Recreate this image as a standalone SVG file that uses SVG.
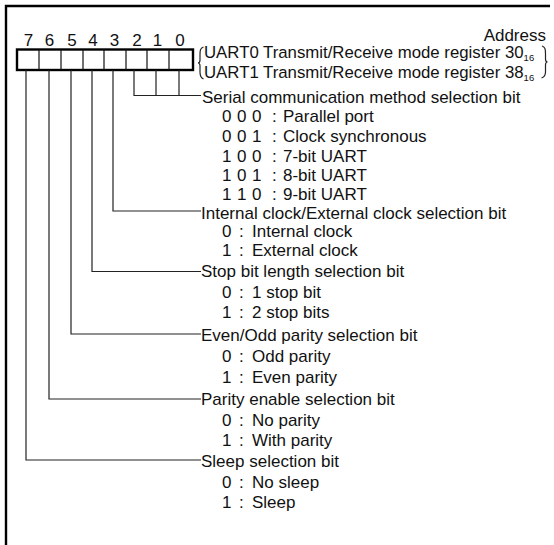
<svg xmlns="http://www.w3.org/2000/svg" width="554" height="545" viewBox="0 0 554 545">
<style>
text{font-family:"Liberation Sans",Arial,sans-serif;font-size:17px;fill:#111}
.hd{font-size:16.8px}
.sub{font-size:9.5px}
.c{text-anchor:middle}
.ln{stroke:#222;stroke-width:1.2;fill:none}
.frame{stroke:#000;stroke-width:2.4;fill:none}
.box{stroke:#000;stroke-width:2.4;fill:#fff}
.cell{stroke:#111;stroke-width:1.2}
</style>
<rect width="554" height="545" fill="#fff"/>
<g id="frame">
<path class="frame" d="M6,545 V6 H550"/>
</g>
<g id="register">
<text class="c" x="28.5" y="46">7</text>
<text class="c" x="49.5" y="46">6</text>
<text class="c" x="72" y="46">5</text>
<text class="c" x="93" y="46">4</text>
<text class="c" x="114.5" y="46">3</text>
<text class="c" x="137" y="46">2</text>
<text class="c" x="157.5" y="46">1</text>
<text class="c" x="180" y="46">0</text>
<rect class="box" x="17" y="49.5" width="176" height="20.5"/>
<path class="cell" d="M39,49.5V70M61,49.5V70M83,49.5V70M104,49.5V70M126,49.5V70M147,49.5V70M169,49.5V70"/>
</g>
<g id="header">
<text x="546" y="41" text-anchor="end">Address</text>
<path class="ln" d="M203.5,47 C200,48 200,51 200,55 V60 C200,62 199,63 198,63 C199,63 200,64 200,66 V72 C200,76 201,78 203.5,79"/>
<text class="hd" x="204" y="58">UART0 Transmit/Receive mode register 30<tspan class="sub" dy="3">16</tspan></text>
<text class="hd" x="204" y="78">UART1 Transmit/Receive mode register 38<tspan class="sub" dy="3">16</tspan></text>
<path class="ln" d="M542,46 C545.5,47 545.5,50 545.5,54 V59 C545.5,61 546.5,62 547.5,62 C546.5,62 545.5,63 545.5,65 V72 C545.5,75 544.5,77 541.5,78"/>
</g>
<g id="connectors">
<path class="ln" d="M134,70 V95.5 H201 M156,70 V95.5 M179,70 V95.5"/>
<path class="ln" d="M113,70 V211 H201"/>
<path class="ln" d="M92,70 V271.5 H201"/>
<path class="ln" d="M71,70 V334 H201"/>
<path class="ln" d="M49,70 V399 H201"/>
<path class="ln" d="M26,70 V460 H201"/>
</g>
<g id="serial">
<text x="202" y="103">Serial communication method selection bit</text>
<text x="222" y="122">0</text><text x="237" y="122">0</text><text x="252" y="122">0</text><text x="272" y="122">:</text><text x="283" y="122">Parallel port</text>
<text x="222" y="142">0</text><text x="237" y="142">0</text><text x="252" y="142">1</text><text x="272" y="142">:</text><text x="283" y="142">Clock synchronous</text>
<text x="222" y="161.5">1</text><text x="237" y="161.5">0</text><text x="252" y="161.5">0</text><text x="272" y="161.5">:</text><text x="283" y="161.5">7-bit UART</text>
<text x="222" y="181">1</text><text x="237" y="181">0</text><text x="252" y="181">1</text><text x="272" y="181">:</text><text x="283" y="181">8-bit UART</text>
<text x="222" y="200">1</text><text x="237" y="200">1</text><text x="252" y="200">0</text><text x="272" y="200">:</text><text x="283" y="200">9-bit UART</text>
</g>
<g id="clock">
<text x="201" y="218.5">Internal clock/External clock selection bit</text>
<text x="222" y="237">0</text><text x="239" y="237">:</text><text x="252" y="237">Internal clock</text>
<text x="222" y="255.5">1</text><text x="239" y="255.5">:</text><text x="252" y="255.5">External clock</text>
</g>
<g id="stopbit">
<text x="201" y="277">Stop bit length selection bit</text>
<text x="222" y="298">0</text><text x="239" y="298">:</text><text x="252" y="298">1 stop bit</text>
<text x="222" y="318">1</text><text x="239" y="318">:</text><text x="252" y="318">2 stop bits</text>
</g>
<g id="evenodd">
<text x="201" y="340.5">Even/Odd parity selection bit</text>
<text x="222" y="361.5">0</text><text x="239" y="361.5">:</text><text x="252" y="361.5">Odd parity</text>
<text x="222" y="382.5">1</text><text x="239" y="382.5">:</text><text x="252" y="382.5">Even parity</text>
</g>
<g id="parity">
<text x="201" y="405">Parity enable selection bit</text>
<text x="222" y="426">0</text><text x="239" y="426">:</text><text x="252" y="426">No parity</text>
<text x="222" y="446">1</text><text x="239" y="446">:</text><text x="252" y="446">With parity</text>
</g>
<g id="sleep">
<text x="201" y="466.5">Sleep selection bit</text>
<text x="222" y="487.5">0</text><text x="239" y="487.5">:</text><text x="252" y="487.5">No sleep</text>
<text x="222" y="507.5">1</text><text x="239" y="507.5">:</text><text x="252" y="507.5">Sleep</text>
</g>
</svg>
